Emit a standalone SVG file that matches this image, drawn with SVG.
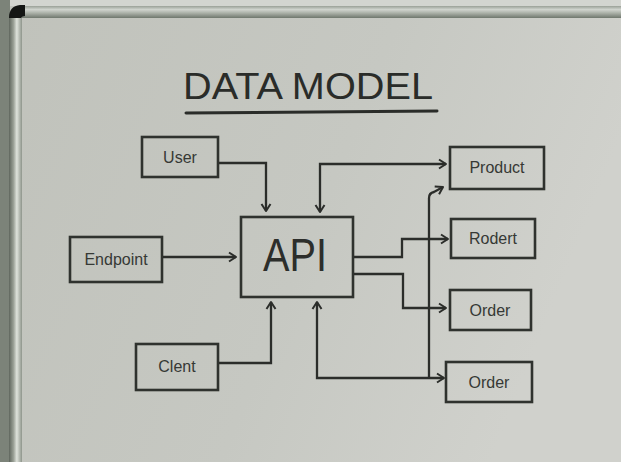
<svg xmlns="http://www.w3.org/2000/svg" width="621" height="462" viewBox="0 0 621 462">
<defs>
<linearGradient id="board" x1="0" y1="0" x2="1" y2="0.3">
<stop offset="0" stop-color="#c0c2bb"/>
<stop offset="0.6" stop-color="#c6c8c2"/>
<stop offset="1" stop-color="#d0d1cc"/>
</linearGradient>
<linearGradient id="topbar" x1="0" y1="0" x2="0" y2="1">
<stop offset="0" stop-color="#9aa097"/>
<stop offset="0.3" stop-color="#d0d4ce"/>
<stop offset="0.6" stop-color="#a9afa6"/>
<stop offset="1" stop-color="#6f776d"/>
</linearGradient>
<linearGradient id="leftbar" x1="0" y1="0" x2="1" y2="0">
<stop offset="0" stop-color="#5f665d"/>
<stop offset="0.35" stop-color="#9ba197"/>
<stop offset="0.6" stop-color="#dfe3dc"/>
<stop offset="1" stop-color="#8e958b"/>
</linearGradient>
<marker id="ah" markerWidth="12" markerHeight="12" refX="9" refY="6" orient="auto" markerUnits="userSpaceOnUse">
<path d="M2,1.5 L9,6 L2,10.5" fill="none" stroke="#2b2d2a" stroke-width="2" stroke-linejoin="round"/>
</marker>
<marker id="ahs" markerWidth="12" markerHeight="12" refX="9" refY="6" orient="auto-start-reverse" markerUnits="userSpaceOnUse">
<path d="M2,1.5 L9,6 L2,10.5" fill="none" stroke="#2b2d2a" stroke-width="2" stroke-linejoin="round"/>
</marker>
</defs>
<style>
.box{fill:none;stroke:#2f322e;stroke-width:2.6}
.lbl{font-family:"Liberation Sans",Arial,sans-serif;font-size:16px;fill:#363935;text-anchor:middle}
.wire{fill:none;stroke:#2b2d2a;stroke-width:2.3;stroke-linejoin:miter}
</style>
<!-- whiteboard background -->
<rect x="0" y="0" width="621" height="462" fill="url(#board)"/>
<rect x="0" y="0" width="621" height="6" fill="#d3d5d0"/>
<rect x="0" y="0" width="10" height="462" fill="#7c8379"/>
<rect x="18" y="6" width="603" height="12" fill="url(#topbar)"/>
<rect x="9" y="14" width="13" height="448" fill="url(#leftbar)"/>
<path d="M9,18 Q9,6 20,5 L25,5 L25,16 Q22,16 21,18 Z" fill="#141614"/>
<!-- title -->
<g id="title">
<text x="183" y="99" font-family="Liberation Sans, Arial, sans-serif" font-size="36" fill="#2a2c29" textLength="250" lengthAdjust="spacingAndGlyphs">DATA MODEL</text>
<path d="M186,113 L437,111" stroke="#2a2c29" stroke-width="3" fill="none" stroke-linecap="round"/>
</g>
<!-- connectors -->
<g id="connectors">
<path class="wire" d="M218,163 L266,163 L266,211" marker-end="url(#ah)"/>
<path class="wire" d="M320,212 L320,164 L446,164" marker-start="url(#ahs)" marker-end="url(#ah)"/>
<path class="wire" d="M162,257 L236,257" marker-end="url(#ah)"/>
<path class="wire" d="M218,363 L271,363 L271,302" marker-end="url(#ah)"/>
<path class="wire" d="M317,302 L317,378 L444,378" marker-start="url(#ahs)" marker-end="url(#ah)"/>
<path class="wire" d="M353,257 L402,257 L402,239 L448,239" marker-end="url(#ah)"/>
<path class="wire" d="M353,274 L403,274 L403,308 L446,308" marker-end="url(#ah)"/>
<path class="wire" d="M429,378 L429,198 Q429,193 434,192 L443,187" marker-end="url(#ah)"/>
</g>
<!-- nodes -->
<g id="user"><rect class="box" x="142" y="137" width="76" height="40"/><text class="lbl" x="180" y="163">User</text></g>
<g id="endpoint"><rect class="box" x="70" y="237" width="92" height="45"/><text class="lbl" x="116" y="265">Endpoint</text></g>
<g id="client"><rect class="box" x="136" y="344" width="82" height="46"/><text class="lbl" x="177" y="372">Clent</text></g>
<g id="api"><rect class="box" x="241" y="217" width="112" height="80"/><text x="263" y="271" font-family="Liberation Sans, Arial, sans-serif" font-size="47" fill="#2c2e2b" textLength="64" lengthAdjust="spacingAndGlyphs">API</text></g>
<g id="product"><rect class="box" x="450" y="147" width="94" height="42"/><text class="lbl" x="497" y="173" font-size="15">Product</text></g>
<g id="rodert"><rect class="box" x="451" y="219" width="84" height="39"/><text class="lbl" x="493" y="244">Rodert</text></g>
<g id="order1"><rect class="box" x="450" y="290" width="81" height="40"/><text class="lbl" x="490" y="316">Order</text></g>
<g id="order2"><rect class="box" x="446" y="362" width="86" height="40"/><text class="lbl" x="489" y="388">Order</text></g>
</svg>
